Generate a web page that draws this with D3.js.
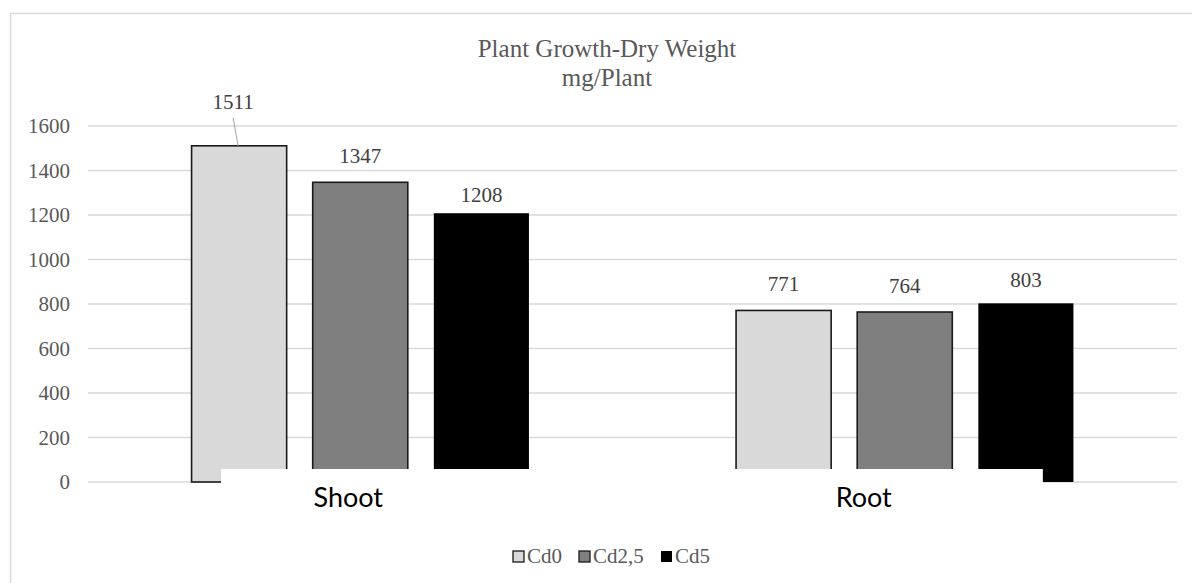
<!DOCTYPE html>
<html>
<head>
<meta charset="utf-8">
<script src="https://cdn.jsdelivr.net/npm/d3@7"></script>
<style>
  body { margin: 0; background: #fff; }
  svg { display: block; }
</style>
</head>
<body>
<svg id="chart"></svg>
<script>
const W = 1192, H = 583;

// data
const categories = ["Shoot", "Root"];
const seriesNames = ["Cd0", "Cd2,5", "Cd5"];
const cd0 = [1511, 771];
const cd25 = [1347, 764];
const cd5 = [1208, 803];
const yTicks = [0, 200, 400, 600, 800, 1000, 1200, 1400, 1600];

const seriesValues = [cd0, cd25, cd5];
const colors = ["#d9d9d9", "#7f7f7f", "#000000"];
const strokes = ["#1a1a1a", "#1a1a1a", "none"];
// label gap above bar top (pixels), per series, per category
const labelGap = [[37, 19], [19, 19], [11, 16]];
const catLabelDx = [-12, -41];

const serif = "'Liberation Serif', 'Times New Roman', serif";
const margin = { top: 126, right: 15, bottom: 101, left: 88 };

var svg = d3.select("#chart")
    .attr("width", W)
    .attr("height", H);

// outer chart border
svg.append("rect")
    .attr("x", 10.5).attr("y", 13.5)
    .attr("width", 1300).attr("height", 700)
    .attr("fill", "#fff")
    .attr("stroke", "#d9d9d9")
    .attr("stroke-width", 1.5);

var x0 = d3.scaleBand()
    .domain(categories)
    .range([margin.left, W - margin.right])
    .paddingInner(0)
    .paddingOuter(0);

var x1 = d3.scaleBand()
    .domain(seriesNames)
    .range([0, x0.bandwidth()])
    .paddingInner(0.215)
    .paddingOuter(0.855);

var y = d3.scaleLinear()
    .domain([0, 1600])
    .range([H - margin.bottom, margin.top]);

// gridlines
svg.append("g")
    .selectAll("line")
    .data(yTicks)
    .enter()
    .append("line")
    .attr("x1", margin.left)
    .attr("x2", W - margin.right)
    .attr("y1", d => y(d))
    .attr("y2", d => y(d))
    .attr("stroke", "#d9d9d9")
    .attr("stroke-width", 1.3);

// y axis labels
var yAxis = svg.append("g")
    .attr("transform", "translate(" + margin.left + ",0)")
    .call(d3.axisLeft(y).tickValues(yTicks).tickFormat(d3.format("d")).tickSize(0).tickPadding(18));
yAxis.select(".domain").remove();
yAxis.selectAll("text")
    .attr("font-family", serif)
    .attr("font-size", 21)
    .attr("fill", "#595959");

// bars
var groups = svg.append("g")
    .selectAll("g")
    .data(seriesNames)
    .enter()
    .append("g");

groups.each(function (s, si) {
    d3.select(this).selectAll("rect")
        .data(seriesValues[si])
        .enter()
        .append("rect")
        .attr("x", (d, i) => x0(categories[i]) + x1(s))
        .attr("y", d => y(d))
        .attr("width", x1.bandwidth())
        .attr("height", d => y(0) - y(d))
        .attr("fill", colors[si])
        .attr("stroke", strokes[si])
        .attr("stroke-width", 1.6);
});

// white box behind category labels (as in the original)
var boxL = x0("Shoot") + x1("Cd0") + 29.5;
var boxR = x0("Root") + x1("Cd5") + 64.5;
svg.append("rect")
    .attr("x", boxL)
    .attr("y", y(0) - 13)
    .attr("width", boxR - boxL)
    .attr("height", 45)
    .attr("fill", "#fff");

// data labels
seriesNames.forEach(function (s, si) {
    seriesValues[si].forEach(function (v, i) {
        var cx = x0(categories[i]) + x1(s) + x1.bandwidth() / 2;
        var gap = labelGap[si][i];
        var lx = cx;
        if (gap > 30) {
            // label moved up, with a leader line
            lx = cx - 6;
            svg.append("line")
                .attr("x1", lx).attr("y1", y(v) - gap + 9)
                .attr("x2", cx - 1).attr("y2", y(v))
                .attr("stroke", "#a6a6a6")
                .attr("stroke-width", 1);
        }
        svg.append("text")
            .attr("x", lx)
            .attr("y", y(v) - gap)
            .attr("text-anchor", "middle")
            .attr("font-family", serif)
            .attr("font-size", 21)
            .attr("fill", "#404040")
            .text(v);
    });
});

// category labels
svg.append("g")
    .selectAll("text")
    .data(categories)
    .enter()
    .append("text")
    .attr("x", (d, i) => x0(d) + x0.bandwidth() / 2 + catLabelDx[i])
    .attr("y", y(0) + 25)
    .attr("text-anchor", "middle")
    .attr("font-family", "Lato, 'Open Sans', sans-serif")
    .attr("font-size", 27)
    .attr("fill", "#000")
    .text(d => d);

// title
var title = svg.append("text")
    .attr("x", 607)
    .attr("y", 57)
    .attr("text-anchor", "middle")
    .attr("font-family", serif)
    .attr("font-size", 25)
    .attr("fill", "#595959");
title.append("tspan").attr("x", 607).attr("dy", 0).text("Plant Growth-Dry Weight");
title.append("tspan").attr("x", 607).attr("dy", 29).text("mg/Plant");

// legend
var legendX = [513, 579, 661];
var legend = svg.append("g")
    .selectAll("g")
    .data(seriesNames)
    .enter()
    .append("g")
    .attr("transform", (d, i) => "translate(" + legendX[i] + ",551)");
legend.append("rect")
    .attr("width", 11).attr("height", 11)
    .attr("fill", (d, i) => colors[i])
    .attr("stroke", (d, i) => i < 2 ? "#1a1a1a" : "none")
    .attr("stroke-width", 1.3);
legend.append("text")
    .attr("x", 14)
    .attr("y", 12)
    .attr("font-family", serif)
    .attr("font-size", 21)
    .attr("fill", "#595959")
    .text(d => d);
</script>
</body>
</html>
